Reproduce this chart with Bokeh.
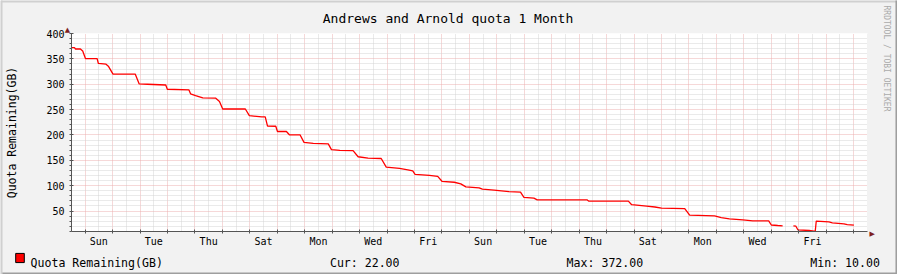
from datetime import datetime, timedelta
from math import pi
from bokeh.plotting import figure
from bokeh.models import Range1d, FixedTicker, DatetimeTickFormatter, Label
from bokeh.embed import file_html
from bokeh.resources import INLINE

# ---------------- data ----------------
TITLE = "Andrews and Arnold quota 1 Month"
Y_LABEL = "Quota Remaining(GB)"
SERIES_NAME = "Quota Remaining(GB)"
START = datetime(2012, 2, 4, 12, 5)      # Saturday, graph covers 1 month (29 days)
SPAN_DAYS = 29

# hours since START of each corner of the step line
hours = [0, 2.6, 3.5, 7.8, 9.8, 12.2, 22.4, 23.5, 30.2, 32.2, 36.3, 55.7, 59.2,
         66.4, 82.4, 83.8, 102.7, 104.1, 108.5, 114.8, 125.9, 129.4, 132.2,
         152.0, 155.5, 166.4, 169.4, 171.4, 178.6, 180.1, 187.9, 190.5, 199.8,
         203.3, 211.4, 224.5, 227.3, 234.6, 246.2, 250.6, 259.3, 270.8, 275.2,
         286.8, 294.1, 298.4, 300.4, 312.9, 320.2, 323.9, 334.7, 340.4, 344.8,
         356.4, 359.3, 369.5, 382.5, 392.6, 395.6, 404.3, 407.2, 450.7, 452.1,
         486.9, 489.8, 502.9, 510.1, 515.9, 536.2, 540.5, 562.3, 568.1, 575.3,
         587.0, 595.7, 609.6, 611.9, 617.5, 621.8, 626.0, 631.2, 633.4, 635.1,
         644.9, 649.3, 650.3, 651.2, 662.3, 665.3, 675.4, 678.3, 684.1]
quota_gb = [372, 372, 369.4, 369.4, 365.5, 350.6, 350.6, 340.9, 339.5, 335.6,
            320, 320, 300.5, 299.9, 298.5, 290.1, 288.8, 281, 277.6, 273.1,
            272.6, 265.9, 251.1, 251.1, 238, 235.5, 235.5, 217.5, 217.1, 206.8,
            206.8, 200.3, 200.3, 185.3, 183.4, 182.4, 171.1, 169.7, 169.1, 157,
            154.1, 153.5, 136.5, 134, 131.3, 129.3, 122.3, 120.3, 118.4, 108.6,
            106.7, 103.4, 97.5, 95.6, 93, 91.1, 88.3, 87.2, 77, 75.5, 72.1, 72.1,
            69.6, 69.6, 62.4, 59.8, 57.9, 55.5, 54.6, 41.9, 40.3, 37, 34.5, 32.5,
            30.6, 30.6, 22.4, 21.4, 20.8, float("nan"), 20.8, 20, 13, 11.6, 10.3,
            10, 30.2, 28.6, 26.7, 24.7, 23.3, 22]

y_major = [50, 100, 150, 200, 250, 300, 350, 400]
y_bottom, y_top = 9.6, 400
stats = ["Cur: 22.00", "Max: 372.00", "Min: 10.00"]
WATERMARK = "RRDTOOL / TOBI OETIKER"

# ---------------- helpers ----------------
EPOCH = datetime(1970, 1, 1)


def ms(dt):
    return (dt - EPOCH).total_seconds() * 1000.0


END = START + timedelta(days=SPAN_DAYS)
xs = [ms(START + timedelta(hours=h)) for h in hours]

first_midnight = datetime(START.year, START.month, START.day) + timedelta(days=1)
midnights = [ms(first_midnight + timedelta(days=i)) for i in range(SPAN_DAYS)]
noons = [ms(first_midnight + timedelta(days=i, hours=12)) for i in range(SPAN_DAYS)]
label_noons = noons[0:28:2]
y_minor = [v for v in range(10, 400, 10) if v % 50]

# ---------------- styling ----------------
FONT = "DejaVu Sans Mono"
BACK = "#F2F2F2"
AXIS = "#555555"
ARROW = "#7F1F1F"
MGRID = "#EDB0B0"
GRID = "#D4D4D4"
SHADE_A = "#D0D0D0"
SHADE_B = "#9E9E9E"

W, H = 897, 274
L, R, T, B = 67, 30, 33, 41

p = figure(width=W, height=H, output_backend="svg", toolbar_location=None,
           title=None, x_axis_type="datetime",
           x_range=Range1d(ms(START), ms(END)), y_range=Range1d(y_bottom, y_top),
           min_border_left=L, min_border_right=R, min_border_top=T,
           min_border_bottom=B)
p.background_fill_color = "#FFFFFF"
p.border_fill_color = BACK
p.outline_line_color = None

# grids
p.xgrid.ticker = FixedTicker(ticks=midnights, minor_ticks=noons)
p.ygrid.ticker = FixedTicker(ticks=y_major, minor_ticks=y_minor)
for g in (p.xgrid, p.ygrid):
    g.grid_line_color = MGRID
    g.grid_line_dash = "1 1"
    g.grid_line_width = 1
    g.minor_grid_line_color = GRID
    g.minor_grid_line_dash = "1 1"
    g.minor_grid_line_width = 1

# x axis
xa = p.xaxis[0]
xa.ticker = FixedTicker(ticks=label_noons, minor_ticks=midnights)
xa.formatter = DatetimeTickFormatter(microseconds="%a", milliseconds="%a",
                                     seconds="%a", minsec="%a", minutes="%a",
                                     hourmin="%a", hours="%a", days="%a",
                                     months="%a", years="%a")
xa.major_tick_in = 0
xa.major_tick_out = 0
xa.minor_tick_in = 2
xa.minor_tick_out = 2
xa.major_label_standoff = 2

# y axis
ya = p.yaxis[0]
ya.ticker = FixedTicker(ticks=y_major, minor_ticks=y_minor)
ya.major_tick_in = 2
ya.major_tick_out = 2
ya.minor_tick_in = 0
ya.minor_tick_out = 2
ya.major_label_standoff = 5
ya.axis_label = Y_LABEL
ya.axis_label_standoff = 24
ya.axis_label_text_font = FONT
ya.axis_label_text_font_size = "11.5px"
ya.axis_label_text_font_style = "normal"
ya.axis_label_text_color = "#000000"

for a in (xa, ya):
    a.axis_line_color = AXIS
    a.major_tick_line_color = AXIS
    a.minor_tick_line_color = AXIS
    a.major_label_text_font = FONT
    a.major_label_text_font_size = "10px"
    a.major_label_text_color = "#000000"

# data line
p.line(xs, quota_gb, line_color="#FF0000", line_width=1.3)


def lab(place, x, y, text, **kw):
    """Label positioned in canvas pixels (y down), kept in a side panel."""
    opts = dict(text_font=FONT, text_color="#000000", text_align="left",
                text_baseline="alphabetic")
    opts.update(kw)
    p.add_layout(Label(x=x, y=y, x_units="canvas", y_units="canvas",
                       text=text, **opts), place)


def band(place, cx, cy, w, h, color):
    """Flat 3d-shade band drawn as an empty label box."""
    lab(place, cx, cy, "\u00a0", text_font_size="0.1px", text_align="center",
        text_baseline="middle", padding=(int(w // 2), int(h // 2)),
        background_fill_color=color, background_fill_alpha=1)


# title (above)
lab("above", 447.5, 18.3, TITLE, text_font_size="13px", text_align="center")

# watermark, axis arrow heads (right)
lab("right", 886, 5, WATERMARK, text_font_size="8px", angle=-pi / 2,
    text_baseline="middle", text_color="#AAAAAA")
lab("right", 869, 233, "\u25B6", text_font="DejaVu Sans", text_font_size="7px",
    text_baseline="middle", text_color=ARROW)
lab("right", 67, 29, "\u25B2", text_font="DejaVu Sans", text_font_size="7px",
    text_align="center", text_baseline="middle", text_color=ARROW)

# legend row (below): one monospaced line, columns padded with no-break spaces
LEG_FS = 11.57
adv = 0.60205 * LEG_FS
cols = [30.1, 329.4, 566.8, 810.5]
row = SERIES_NAME
for txt, cx in zip(stats, cols[1:]):
    n = max(1, round((cx - cols[0]) / adv) - len(row))
    row += "\u00a0" * n + txt
lab("below", cols[0], 262.5, row, text_font_size="%.2fpx" % LEG_FS)
# legend colour box
lab("below", 19.5, 257.5, "\u00a0", text_font_size="1px", text_align="center",
    text_baseline="middle", padding=4, background_fill_color="#FF0000",
    background_fill_alpha=1, border_line_color="#000000", border_line_width=1)

# 3d shade of the image border
band("above", W / 2, 1, W, 2, SHADE_A)
band("left", 1, H / 2, 2, H, SHADE_A)
band("right", W - 1, H / 2, 2, H, SHADE_B)
band("below", W / 2, H - 1, W, 2, SHADE_B)

open("out.html", "w").write(file_html(p, INLINE))
